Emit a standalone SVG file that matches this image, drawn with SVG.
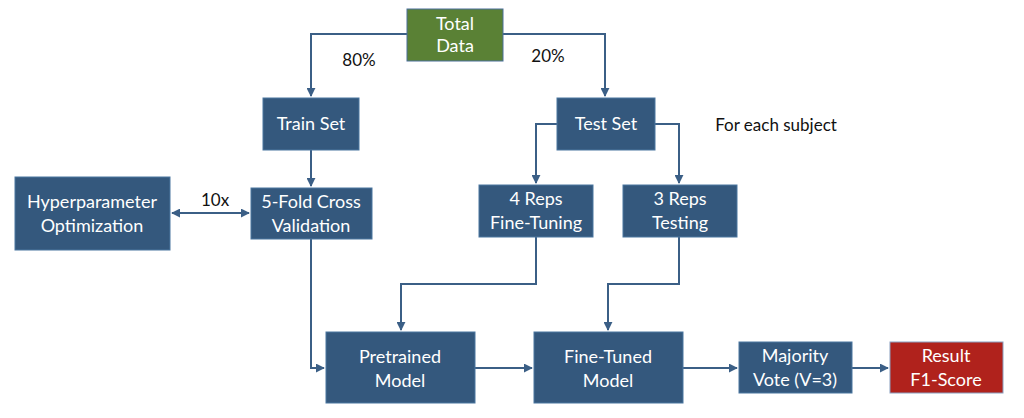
<svg xmlns="http://www.w3.org/2000/svg" width="1024" height="418" viewBox="0 0 1024 418">
<defs>
<marker id="ah" viewBox="0 0 10 10" refX="9" refY="5" markerWidth="4.5" markerHeight="4.5" orient="auto-start-reverse">
<path d="M0,0 L10,5 L0,10 z" fill="#3b5f86"/>
</marker>
<style>
.box{fill:#34587d;stroke:#4a76a0;stroke-width:1}
.green{fill:#5a8135;stroke:#4a6e9a;stroke-width:1}
.red{fill:#b0221c;stroke:#8aa0c0;stroke-width:1}
.t{font-family:Lato,"Liberation Sans",sans-serif;font-size:18px;fill:#ffffff;text-anchor:middle}
.k{font-family:Lato,"Liberation Sans",sans-serif;font-size:17px;fill:#111111;text-anchor:middle}
.c{fill:none;stroke:#3b5f86;stroke-width:2}
</style>
</defs>
<rect width="1024" height="418" fill="#ffffff"/>
<g id="connectors">
<path class="c" d="M407,34 H311 V96" marker-end="url(#ah)"/>
<path class="c" d="M503,34 H605 V96" marker-end="url(#ah)"/>
<path class="c" d="M311,150 V186" marker-end="url(#ah)"/>
<path class="c" d="M172,213 H249" marker-start="url(#ah)" marker-end="url(#ah)"/>
<path class="c" d="M557,124 H536 V183" marker-end="url(#ah)"/>
<path class="c" d="M655,124 H679 V183" marker-end="url(#ah)"/>
<path class="c" d="M311,239 V368 H324" marker-end="url(#ah)"/>
<path class="c" d="M536,237 V284 H401 V330" marker-end="url(#ah)"/>
<path class="c" d="M679,237 V284 H608 V330" marker-end="url(#ah)"/>
<path class="c" d="M475,368 H532" marker-end="url(#ah)"/>
<path class="c" d="M683,368 H737" marker-end="url(#ah)"/>
<path class="c" d="M852,368 H888" marker-end="url(#ah)"/>
</g>
<g id="labels">
<text class="k" x="359" y="66">80%</text>
<text class="k" x="548" y="62">20%</text>
<text class="k" x="215" y="206">10x</text>
<text class="k" x="776" y="131">For each subject</text>
</g>
<g id="total-data">
<rect class="green" x="407" y="9" width="96" height="52"/>
<text class="t" x="455" y="30">Total</text>
<text class="t" x="455" y="52">Data</text>
</g>
<g id="train-set">
<rect class="box" x="263" y="98" width="96" height="52"/>
<text class="t" x="311" y="130">Train Set</text>
</g>
<g id="test-set">
<rect class="box" x="557" y="98" width="98" height="52"/>
<text class="t" x="606" y="130">Test Set</text>
</g>
<g id="hyperparameter">
<rect class="box" x="15" y="177" width="155" height="73"/>
<text class="t" x="92" y="208">Hyperparameter</text>
<text class="t" x="92" y="232">Optimization</text>
</g>
<g id="cross-validation">
<rect class="box" x="251" y="188" width="121" height="51"/>
<text class="t" x="311" y="208">5-Fold Cross</text>
<text class="t" x="311" y="232">Validation</text>
</g>
<g id="fine-tuning-reps">
<rect class="box" x="479" y="185" width="114" height="52"/>
<text class="t" x="536" y="205">4 Reps</text>
<text class="t" x="536" y="229">Fine-Tuning</text>
</g>
<g id="testing-reps">
<rect class="box" x="623" y="185" width="114" height="52"/>
<text class="t" x="680" y="205">3 Reps</text>
<text class="t" x="680" y="229">Testing</text>
</g>
<g id="pretrained-model">
<rect class="box" x="326" y="332" width="149" height="71"/>
<text class="t" x="400" y="363">Pretrained</text>
<text class="t" x="400" y="387">Model</text>
</g>
<g id="fine-tuned-model">
<rect class="box" x="534" y="332" width="149" height="71"/>
<text class="t" x="608" y="363">Fine-Tuned</text>
<text class="t" x="608" y="387">Model</text>
</g>
<g id="majority-vote">
<rect class="box" x="739" y="342" width="113" height="51"/>
<text class="t" x="795" y="362">Majority</text>
<text class="t" x="795" y="386">Vote (V=3)</text>
</g>
<g id="result">
<rect class="red" x="890" y="342" width="113" height="51"/>
<text class="t" x="946" y="362">Result</text>
<text class="t" x="946" y="386">F1-Score</text>
</g>
</svg>
